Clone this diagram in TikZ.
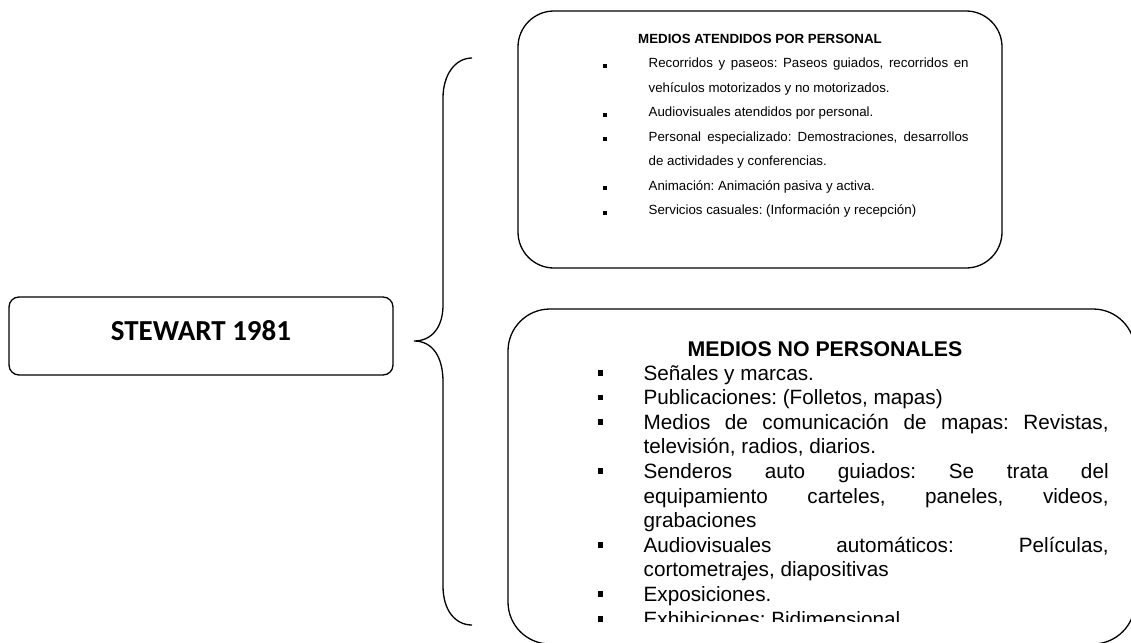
\documentclass[tikz,border=0pt]{standalone}
\usepackage{fontspec}
\setmainfont{Liberation Sans}
\newfontfamily\carlito{Carlito}
\frenchspacing
\newcommand{\myJ}[1]{\hbox to\hsize{#1}}
\newcommand{\myL}[1]{\hbox to\hsize{#1\hfil}}
\newcommand{\bulA}{\llap{\rule{4pt}{4pt}\hspace{42pt}}}
\newcommand{\bulB}{\llap{\rule[4.5pt]{5.5pt}{5.5pt}\hspace{40.5pt}}}
\begin{document}
\begin{tikzpicture}[x=1pt,y=-1pt,line width=1.3pt,
  rbox/.style={draw, rounded corners=#1, inner sep=0pt},
  txt/.style={inner sep=0pt, align=left}]
\useasboundingbox (0,0) rectangle (1131,642);
\clip (0,0) rectangle (1131,642);
\fill[white] (0,0) rectangle (1131,642);

% main box
\node[rbox=10pt, minimum width=384pt, minimum height=78pt] (stewart) at (201,336) {};
\node[inner sep=0pt, anchor=base] (stewarttext) at (201,340.7)
  {\carlito\bfseries\fontsize{29}{34}\selectfont STEWART 1981};

% brace
\coordinate (bt) at (472,58);
\coordinate (bb) at (472,625);
\coordinate (tip) at (414,341);
\draw (bt) .. controls (455,58) and (443,75) .. (443,98)
  -- (443,305) .. controls (443,327) and (432,341) .. (tip)
  .. controls (432,341) and (443,356) .. (443,382)
  -- (443,586) .. controls (443,610) and (455,625) .. (bb);

% top box
\node[rbox=36pt, minimum width=484pt, minimum height=257pt] (topbox) at (760,139.5) {};
\node[inner sep=0pt, anchor=base] (tophead) at (760,43.3)
  {\fontsize{13.3}{16}\selectfont\bfseries MEDIOS ATENDIDOS POR PERSONAL};
\node[txt, anchor=base west] (toptext) at (648,67.7)
  {\parbox[t]{320pt}{\frenchspacing\fontsize{13.3}{24.5}\selectfont\baselineskip=24.5pt\lineskiplimit=-100pt
  \myJ{\bulA Recorridos y paseos: Paseos guiados, recorridos en}
  \myL{vehículos motorizados y no motorizados.}
  \myL{\bulA Audiovisuales atendidos por personal.}
  \myJ{\bulA Personal especializado: Demostraciones, desarrollos}
  \myL{de actividades y conferencias.}
  \myL{\bulA Animación: Animación pasiva y activa.}
  \myL{\bulA Servicios casuales: (Información y recepción)}}};

% bottom box
\node[rbox=42pt, minimum width=627pt, minimum height=335pt] (botbox) at (821.5,476.5) {};
\node[inner sep=0pt, anchor=base] (bothead) at (825,356)
  {\fontsize{21.3}{24}\selectfont\bfseries MEDIOS NO PERSONALES};
\begin{scope}
\clip (500,300) rectangle (1131,621.5);
\node[txt, anchor=base west] (bottext) at (643,380)
  {\parbox[t]{465pt}{\frenchspacing\fontsize{20.7}{24.6}\selectfont\baselineskip=24.6pt\lineskiplimit=-100pt
  \myL{\bulB Señales y marcas.}
  \myL{\bulB Publicaciones: (Folletos, mapas)}
  \myJ{\bulB Medios de comunicación de mapas: Revistas,}
  \myL{televisión, radios, diarios.}
  \myJ{\bulB Senderos auto guiados: Se trata del}
  \myJ{equipamiento carteles, paneles, videos,}
  \myL{grabaciones}
  \myJ{\bulB Audiovisuales automáticos: Películas,}
  \myL{cortometrajes, diapositivas}
  \myL{\bulB Exposiciones.}
  \myL{\bulB Exhibiciones: Bidimensional}}};
\end{scope}
\end{tikzpicture}
\end{document}
